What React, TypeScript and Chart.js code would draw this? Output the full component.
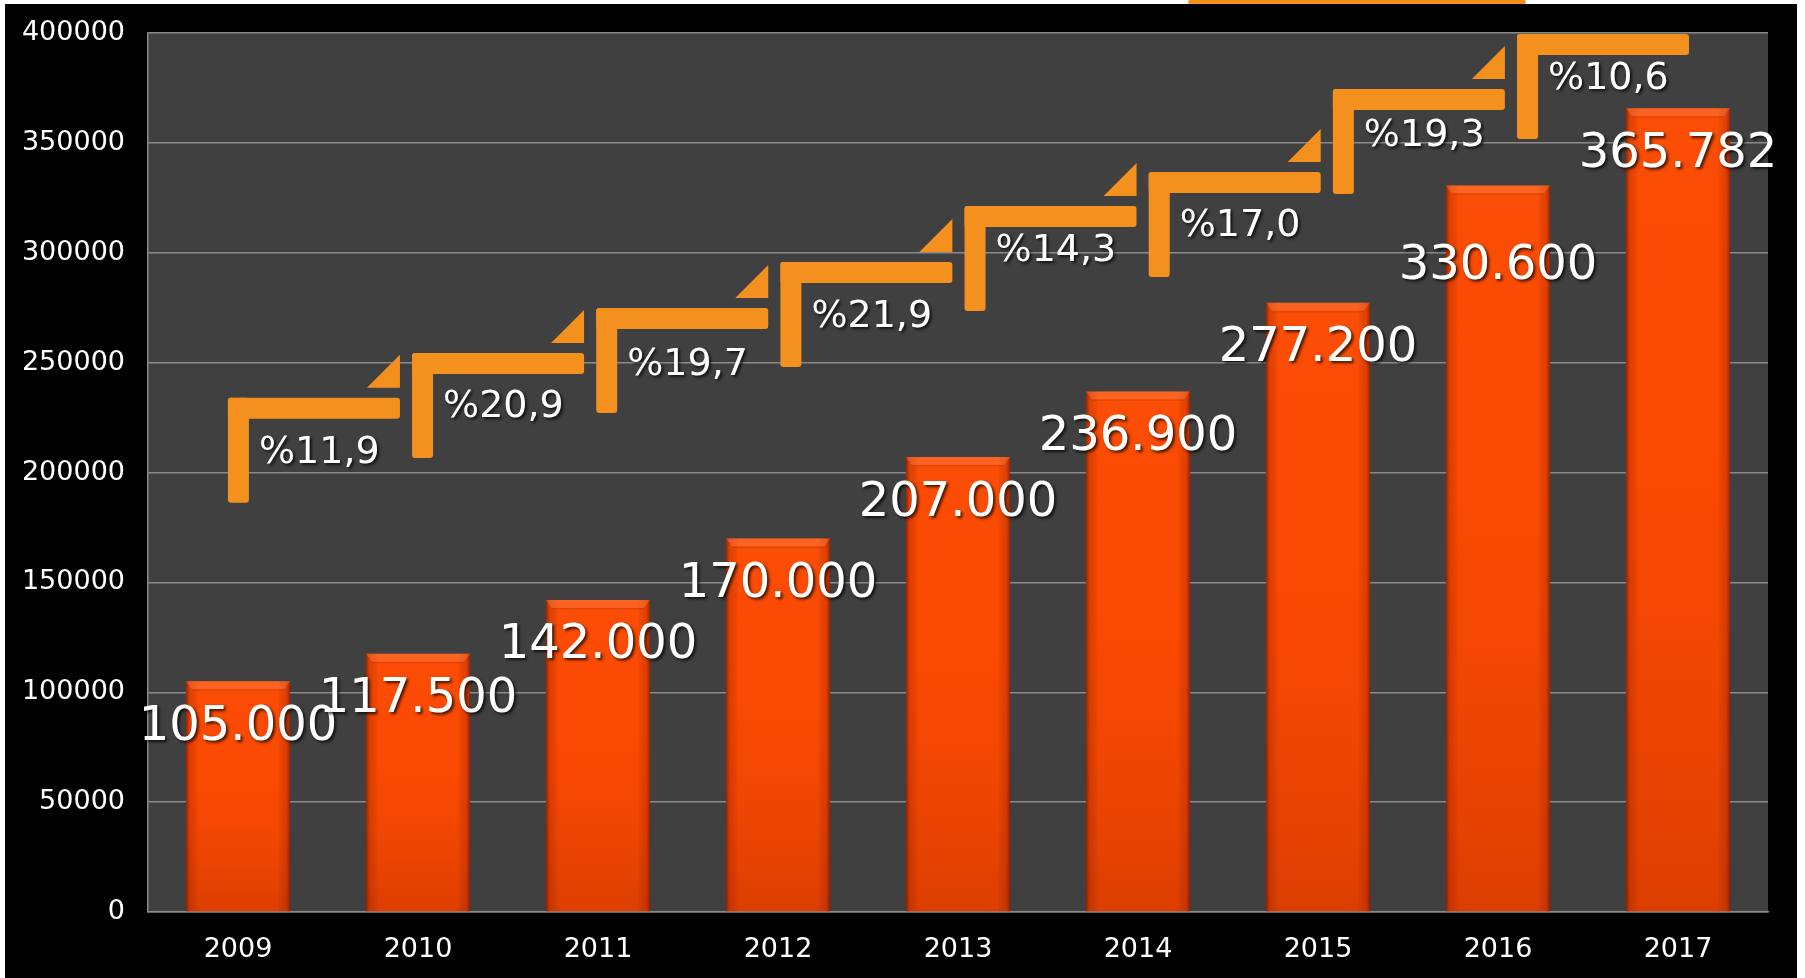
import React, { useEffect, useRef } from "react";
import { Chart, registerables } from "chart.js";

Chart.register(...registerables);

const years = ["2009", "2010", "2011", "2012", "2013", "2014", "2015", "2016", "2017"];
const visitors = [105000, 117500, 142000, 170000, 207000, 236900, 277200, 330600, 365782];
const valueLabels = ["105.000", "117.500", "142.000", "170.000", "207.000", "236.900", "277.200", "330.600", "365.782"];
const growthLabels = ["%11,9", "%20,9", "%19,7", "%21,9", "%14,3", "%17,0", "%19,3", "%10,6"];
const yTickValues = [0, 50000, 100000, 150000, 200000, 250000, 300000, 350000, 400000];

const FONT = "'DejaVu Sans', Verdana, sans-serif";

const bgPlugin = {
  id: "bgPlugin",
  beforeDraw(chart: any) {
    const { ctx, chartArea: a, width, height } = chart;
    ctx.save();
    ctx.fillStyle = "#000000";
    ctx.fillRect(0, 0, width, height);
    ctx.fillStyle = "#404040";
    ctx.fillRect(a.left, a.top, a.right - a.left, a.bottom - a.top);
    ctx.restore();
  },
};

const barShadePlugin = {
  id: "barShade",
  afterDatasetsDraw(chart: any) {
    const { ctx } = chart;
    const meta = chart.getDatasetMeta(0);
    ctx.save();
    meta.data.forEach((el: any) => {
      const w = el.width;
      const left = el.x - w / 2;
      const right = el.x + w / 2;
      const top = el.y;
      const bottom = el.base;
      const h = bottom - top;
      const g = ctx.createLinearGradient(0, top, 0, bottom);
      g.addColorStop(0, "rgba(255,120,40,0.10)");
      g.addColorStop(0.25, "rgba(255,80,0,0)");
      g.addColorStop(1, "rgba(110,20,0,0.22)");
      ctx.fillStyle = g;
      ctx.fillRect(left, top, w, h);
      const hg = ctx.createLinearGradient(left, 0, right, 0);
      hg.addColorStop(0, "rgba(90,10,0,0.6)");
      hg.addColorStop(0.04, "rgba(120,20,0,0.2)");
      hg.addColorStop(0.12, "rgba(0,0,0,0)");
      hg.addColorStop(0.88, "rgba(0,0,0,0)");
      hg.addColorStop(0.96, "rgba(120,20,0,0.2)");
      hg.addColorStop(1, "rgba(90,10,0,0.6)");
      ctx.fillStyle = hg;
      ctx.fillRect(left, top, w, h);
      ctx.beginPath();
      ctx.moveTo(left, top);
      ctx.lineTo(right, top);
      ctx.lineTo(right - 6, top + 8);
      ctx.lineTo(left + 6, top + 8);
      ctx.closePath();
      ctx.fillStyle = "rgba(255,150,100,0.30)";
      ctx.fill();
      ctx.fillStyle = "rgba(150,40,0,0.25)";
      ctx.fillRect(left + 6, top + 8, w - 12, 1.5);
    });
    ctx.restore();
  },
};

function rr(ctx: any, x: number, y: number, w: number, h: number, r: number) {
  ctx.beginPath();
  if (ctx.roundRect) ctx.roundRect(x, y, w, h, r);
  else ctx.rect(x, y, w, h);
  ctx.fill();
}

const overlayPlugin = {
  id: "overlay",
  afterDraw(chart: any, _args: any, opts: any) {
    const { ctx, chartArea: a } = chart;
    const xs = chart.scales.x;
    const ys = chart.scales.y;
    const x0 = xs.getPixelForValue(0);
    const cat = xs.getPixelForValue(1) - x0;

    ctx.save();
    ctx.beginPath();
    ctx.rect(a.left, a.top, a.right - a.left, a.bottom - a.top);
    ctx.clip();
    ctx.fillStyle = "#F4901E";
    const T = opts.thickness;
    growthLabels.forEach((_, i) => {
      const left = x0 + (opts.stepStart + i * opts.stepSpacing) * cat;
      const top = ys.getPixelForValue(opts.stepTops[i]);
      rr(ctx, left, top, T, opts.stepHeight, 3);
      rr(ctx, left, top, opts.stepLength, T, 3);
      const R = left + opts.stepLength;
      const tb = top - opts.triGap;
      const s = opts.triSize;
      ctx.beginPath();
      ctx.moveTo(R, tb);
      ctx.lineTo(R, tb - s);
      ctx.lineTo(R - s, tb);
      ctx.closePath();
      ctx.fill();
    });
    ctx.restore();

    ctx.save();
    ctx.shadowColor = "rgba(0,0,0,0.75)";
    ctx.shadowBlur = 3;
    ctx.shadowOffsetX = 2;
    ctx.shadowOffsetY = 2;
    ctx.fillStyle = "#ffffff";

    ctx.font = `38px ${FONT}`;
    ctx.textAlign = "left";
    ctx.textBaseline = "alphabetic";
    growthLabels.forEach((t, i) => {
      const left = x0 + (opts.stepStart + i * opts.stepSpacing) * cat;
      const top = ys.getPixelForValue(opts.stepTops[i]);
      ctx.fillText(t, left + 31, top + opts.textOffsets[i]);
    });

    ctx.font = `48px ${FONT}`;
    ctx.textAlign = "center";
    ctx.textBaseline = "middle";
    const meta = chart.getDatasetMeta(0);
    meta.data.forEach((el: any, i: number) => {
      ctx.fillText(valueLabels[i], el.x, el.y + opts.labelOffsets[i]);
    });
    ctx.restore();
  },
};

export default function App() {
  const ref = useRef<HTMLCanvasElement | null>(null);

  useEffect(() => {
    if (!ref.current) return;
    const chart = new Chart(ref.current, {
      type: "bar",
      data: {
        labels: years,
        datasets: [
          {
            data: visitors,
            backgroundColor: "#FB4A03",
            borderWidth: 0,
            barPercentage: 0.578,
            categoryPercentage: 1,
          },
        ],
      },
      plugins: [bgPlugin, barShadePlugin, overlayPlugin],
      options: {
        animation: false,
        responsive: true,
        maintainAspectRatio: false,
        layout: { padding: { left: 0, top: 29, right: 29, bottom: 0 } },
        plugins: {
          legend: { display: false },
          tooltip: { enabled: false },
          overlay: {
            stepTops: [234000, 254400, 274900, 295800, 321300, 336700, 374500, 399500],
            stepStart: -0.056,
            stepSpacing: 1.0231,
            thickness: 21,
            stepHeight: 105,
            stepLength: 172,
            triGap: 10,
            triSize: 33,
            textOffsets: [65, 64, 67, 65, 55, 64, 57, 55],
            labelOffsets: [46, 46, 46, 46, 46, 46, 46, 81, 46],
          },
        } as any,
        scales: {
          x: {
            grid: { display: false, drawTicks: false },
            border: { display: true, color: "#8a8a8a", width: 1.5 },
            ticks: { color: "#ffffff", font: { family: FONT, size: 27 }, padding: 22 },
            afterFit(scale: any) {
              scale.height = 66;
            },
          },
          y: {
            min: 0,
            max: 400000,
            afterBuildTicks(scale: any) {
              scale.ticks = yTickValues.map((v) => ({ value: v }));
            },
            grid: { color: "#8a8a8a", lineWidth: 1.5, drawTicks: false },
            border: { display: true, color: "#8a8a8a", width: 1.5 },
            ticks: {
              color: "#ffffff",
              font: { family: FONT, size: 27 },
              padding: 23,
              callback: (v: any) => String(v),
            },
            afterFit(scale: any) {
              scale.width = 143;
              scale.paddingTop = 0;
              scale.paddingBottom = 0;
            },
          },
        },
      },
    });
    return () => chart.destroy();
  }, []);

  return (
    <div style={{ position: "fixed", left: 0, top: 0, width: 1805, height: 978, background: "#ffffff", overflow: "hidden" }}>
      <div style={{ position: "absolute", left: 1188, top: 0, width: 338, height: 4, background: "#F4901E", borderRadius: 2 }} />
      <div style={{ position: "absolute", left: 5, top: 4, width: 1792, height: 974, background: "#000000" }}>
        <canvas ref={ref} />
      </div>
    </div>
  );
}
